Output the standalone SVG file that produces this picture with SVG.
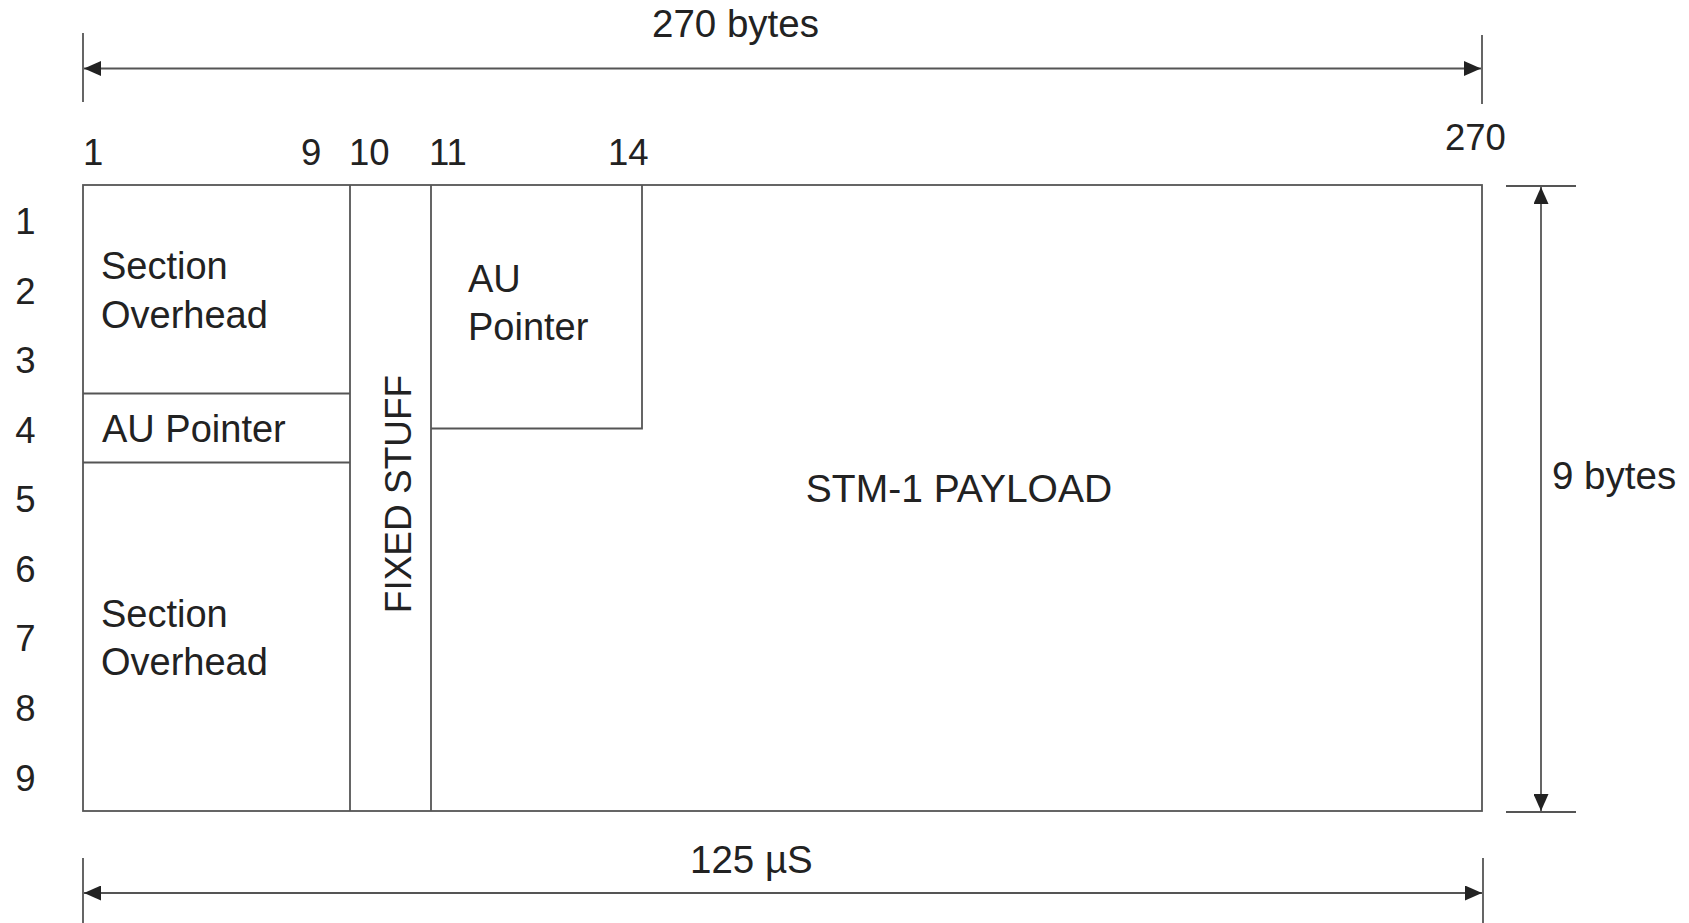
<svg xmlns="http://www.w3.org/2000/svg" width="1689" height="923" viewBox="0 0 1689 923">
<style>
  .ln { stroke:#555; stroke-width:1.8; fill:none; }
  .t { font-family:"Liberation Sans", Arial, sans-serif; font-size:38px; fill:#222; }
  .n { font-family:"Liberation Sans", Arial, sans-serif; font-size:36.5px; fill:#222; }
  .d { font-family:"Liberation Sans", Arial, sans-serif; font-size:38.5px; fill:#222; }
</style>
<defs>
  <marker id="ah" viewBox="0 0 17 15" refX="17" refY="7.5" markerWidth="17" markerHeight="15" markerUnits="userSpaceOnUse" orient="auto-start-reverse">
    <path d="M0,0 L17,7.5 L0,15 Z" fill="#222"/>
  </marker>
</defs>
<rect width="1689" height="923" fill="#fff"/>

<g id="frame">
  <rect class="ln" x="83" y="185" width="1399" height="626"/>
</g>

<g id="section-overhead-top">
  <text class="t" x="101" y="279">Section</text>
  <text class="t" x="101" y="328">Overhead</text>
</g>
<g id="au-pointer-row">
  <line class="ln" x1="83" y1="393.5" x2="350" y2="393.5"/>
  <line class="ln" x1="83" y1="462.5" x2="350" y2="462.5"/>
  <text class="t" x="102" y="442">AU Pointer</text>
</g>
<g id="section-overhead-bottom">
  <text class="t" x="101" y="627">Section</text>
  <text class="t" x="101" y="675">Overhead</text>
</g>
<g id="fixed-stuff">
  <line class="ln" x1="350" y1="185" x2="350" y2="811"/>
  <line class="ln" x1="431" y1="185" x2="431" y2="811"/>
  <text class="n" x="0" y="0" text-anchor="middle" style="font-size:37px" transform="translate(411,494) rotate(-90)">FIXED STUFF</text>
</g>
<g id="au-pointer-box">
  <polyline class="ln" points="642,185 642,428.5 431,428.5"/>
  <text class="t" x="468" y="292">AU</text>
  <text class="t" x="468" y="340">Pointer</text>
</g>
<g id="payload">
  <text class="t" x="959" y="502" text-anchor="middle" style="font-size:39px">STM-1 PAYLOAD</text>
</g>

<g id="column-labels">
  <text class="n" x="83" y="165">1</text>
  <text class="n" x="301" y="165">9</text>
  <text class="n" x="349" y="165">10</text>
  <text class="n" x="429" y="165">11</text>
  <text class="n" x="608" y="165">14</text>
  <text class="n" x="1445" y="150">270</text>
</g>
<g id="row-labels">
  <text class="n" x="25.5" y="234" text-anchor="middle">1</text>
  <text class="n" x="25.5" y="303.5" text-anchor="middle">2</text>
  <text class="n" x="25.5" y="373" text-anchor="middle">3</text>
  <text class="n" x="25.5" y="442.5" text-anchor="middle">4</text>
  <text class="n" x="25.5" y="512" text-anchor="middle">5</text>
  <text class="n" x="25.5" y="582" text-anchor="middle">6</text>
  <text class="n" x="25.5" y="651" text-anchor="middle">7</text>
  <text class="n" x="25.5" y="721" text-anchor="middle">8</text>
  <text class="n" x="25.5" y="791" text-anchor="middle">9</text>
</g>

<g id="connectors">
  <line class="ln" x1="83" y1="33" x2="83" y2="102"/>
  <line class="ln" x1="1482" y1="35" x2="1482" y2="104"/>
  <line class="ln" x1="84" y1="68.5" x2="1481" y2="68.5" marker-start="url(#ah)" marker-end="url(#ah)"/>

  <line class="ln" x1="83" y1="858" x2="83" y2="923"/>
  <line class="ln" x1="1483" y1="858" x2="1483" y2="923"/>
  <line class="ln" x1="84" y1="893" x2="1482" y2="893" marker-start="url(#ah)" marker-end="url(#ah)"/>

  <line class="ln" x1="1506" y1="186" x2="1576" y2="186"/>
  <line class="ln" x1="1506" y1="812" x2="1576" y2="812"/>
  <line class="ln" x1="1541" y1="187" x2="1541" y2="811" marker-start="url(#ah)" marker-end="url(#ah)"/>
</g>

<g id="dimension-labels">
  <text class="d" x="652" y="37">270 bytes</text>
  <text class="d" x="1552" y="489">9 bytes</text>
  <text class="d" x="690" y="873">125 µS</text>
</g>
</svg>
